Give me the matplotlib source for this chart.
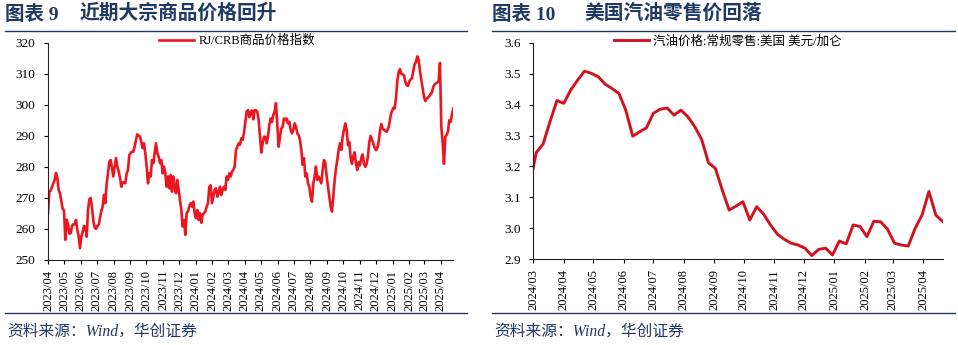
import matplotlib
matplotlib.use("Agg")
import matplotlib.pyplot as plt
import matplotlib.dates as mdates
from matplotlib.lines import Line2D
import pandas as pd

plt.rcParams['font.family'] = ['Liberation Serif', 'Noto Sans CJK SC']
plt.rcParams['axes.unicode_minus'] = False

# ---- RJ/CRB commodity index (sampled roughly every 2.5 days) ----
crb_start = "2023-04-01"
crb_end = "2025-04-24"
crb_values = [
    265, 272, 272.4, 273.5, 274.7, 275.8, 278, 276.5, 272.5, 271.5,
    269, 266.5, 266, 256.5, 263, 261.5, 258.5, 258.6, 261, 261.5,
    261.5, 262.9, 259.7, 257.6, 253.8, 257.6, 259, 261, 260.5, 257.5,
    266, 269.5, 270, 267, 262.6, 260.5, 260, 261, 261.3, 263.5,
    265.8, 267.2, 271, 268.3, 274.7, 277.9, 281.7, 282.2, 279.5, 276.9,
    280.1, 282.8, 280.1, 278.5, 276.5, 273.6, 275, 275, 274.7, 277.9,
    279, 283.8, 284.5, 284.9, 284.9, 286.5, 288.7, 290.5, 290, 289.8,
    288, 286,
    287.6, 284.4, 280.1, 274.7, 277.9, 276.9, 282.2, 281.2, 284.4, 287.6,
    284.4, 283.3, 281.2, 282.2, 277.9, 280.1, 277.9, 273.6, 276.9, 273.1,
    277.4, 272, 276.9, 273.6, 271.5, 275.8, 272.6, 269.4, 266.1, 260.8,
    262.9, 258.1, 265.1, 265.7, 267.2, 268.3, 267.2, 268.8, 265.1, 263.5,
    266.1, 262.9, 265.1, 262, 264.6, 265.1, 265.6, 267.2, 268.3, 273.6,
    274.1, 268.3, 270.4, 272.6, 273.1, 270.4, 271.5, 273.6, 270.9, 272.6,
    273.6, 272.6, 276.9, 275.8, 277.9, 276.9, 278.5, 279, 280.1, 285.5,
    286.5, 287.6, 287.1, 289.2, 288.7,
    291, 294.5, 297.8, 298.3, 296, 297.5, 298.2, 295.3, 298.3, 298.2,
    297.7, 295, 290, 284.6, 287.6, 289.7, 289.7, 287.6, 289.7, 293.5,
    295.6, 294.5, 296.7, 297.8, 300.5, 293.5, 286.5, 289.7, 292.4, 292.9,
    295.6, 295.1, 295.6, 294, 294.5, 291.9, 290.8, 291.9, 294, 292.9,
    290.8, 290.3, 288.7, 285.5, 280.7, 282.8, 276.9, 277.9, 274.7, 273.6,
    270.4, 268.8, 274.7, 276.9, 280.1, 275.8, 276.9, 275.8, 274.7, 279,
    282.2, 281.2, 276.9, 273.6, 270.4, 267.2, 265.6, 270.4, 275.8, 279.5,
    282.2, 285.5, 287.6, 285.5, 289.7,
    292, 294, 291.9, 287, 288, 283, 281, 283.5, 284.7, 281,
    279, 281.5, 280.5, 283, 284, 281, 280, 281, 283.5, 288,
    290, 288.7, 287.3, 286.2, 285.4, 286, 288, 291.5, 293.8, 292.4,
    291.9, 291.6, 291.3, 292.2, 293.7, 296.5, 298, 299, 298.8, 302,
    307.7, 310.4, 311.5, 310, 309.8, 309.5, 307.4, 306.3, 306.1, 307.5,
    308.2, 308.5, 311, 313, 313.8, 315.6, 314.5, 310.9, 308.2, 305.5,
    302.6, 301.2, 302, 302.3, 302.8, 303.4, 304, 305.8, 306.6, 306.9,
    307.2, 307.4, 313.5, 293, 288, 281, 289.7, 290.3, 291.4, 295,
    294.5, 297, 298.8,
]
crb_label = "RJ/CRB商品价格指数"
crb_yticks = [250, 260, 270, 280, 290, 300, 310, 320]

# ---- US regular retail gasoline, weekly (USD/gallon) ----
gas_start = "2024-02-26"
gas_end = "2025-04-21"
gas_values = [
    3.133, 3.245, 3.273, 3.345, 3.413, 3.404, 3.447, 3.479, 3.508, 3.501,
    3.490, 3.466, 3.452, 3.436, 3.382, 3.298, 3.312, 3.325, 3.372, 3.385,
    3.389, 3.366, 3.382, 3.361, 3.329, 3.288, 3.212, 3.194, 3.124, 3.059,
    3.072, 3.086, 3.027, 3.070, 3.046, 3.011, 2.981, 2.965, 2.952, 2.946,
    2.936, 2.912, 2.932, 2.936, 2.914, 2.959, 2.950, 3.011, 3.006, 2.973,
    3.023, 3.021, 2.997, 2.952, 2.946, 2.943, 3.000, 3.043, 3.119, 3.043,
    3.022,
]
gas_label = "汽油价格:常规零售:美国 美元/加仑"
gas_yticks = [2.9, 3.0, 3.1, 3.2, 3.3, 3.4, 3.5, 3.6]

NAVY = "#1F3864"
RED1 = "#EC1620"
RED2 = "#D3121E"

W, H = 958, 345
fig = plt.figure(figsize=(W / 100, H / 100), dpi=100)


def box(x0, y0, x1, y1):
    return [x0 / W, 1 - y1 / H, (x1 - x0) / W, (y1 - y0) / H]


def style_axis(ax):
    for s in ("top", "right"):
        ax.spines[s].set_visible(False)
    for s in ("left", "bottom"):
        ax.spines[s].set_color("#222222")
        ax.spines[s].set_linewidth(0.8)
    ax.tick_params(axis="y", direction="out", length=3, width=0.8,
                   labelsize=9.5, pad=6)
    ax.tick_params(axis="x", direction="out", length=3, width=0.8,
                   labelsize=9, pad=4, labelrotation=90)
    ax.xaxis.set_major_locator(mdates.MonthLocator())
    ax.xaxis.set_major_formatter(mdates.DateFormatter("%Y/%m"))


# left panel
ax1 = fig.add_axes(box(48, 42.7, 453.3, 260))
crb_dates = pd.date_range(crb_start, crb_end, periods=len(crb_values))
ax1.plot(crb_dates, crb_values, color=RED1, lw=1.9, label=crb_label)
ax1.set_ylim(250, 320)
ax1.set_yticks(crb_yticks)
ax1.set_xlim(pd.Timestamp(crb_start), pd.Timestamp(crb_end))
style_axis(ax1)
ax1.legend(loc="upper left", bbox_to_anchor=(0.275, 1.035), frameon=False,
           fontsize=9, handlelength=2.8, handletextpad=0.3, borderpad=0,
           borderaxespad=0)

# right panel
ax2 = fig.add_axes(box(533.3, 42.7, 942.7, 259.3))
gas_dates = pd.date_range(gas_start, gas_end, freq="7D")
ax2.plot(gas_dates, gas_values, color=RED2, lw=2.1, label=gas_label)
ax2.set_ylim(2.9, 3.6)
ax2.set_yticks(gas_yticks)
ax2.yaxis.set_major_formatter(matplotlib.ticker.FormatStrFormatter("%.1f"))
ax2.set_xlim(pd.Timestamp("2024-03-01"), pd.Timestamp(gas_end))
style_axis(ax2)
ax2.legend(loc="upper left", bbox_to_anchor=(0.198, 1.035), frameon=False,
           fontsize=9, handlelength=2.8, handletextpad=0.3, borderpad=0,
           borderaxespad=0)

# titles, rules and source notes
for (x0, x1, num, title, tx) in [
    (5, 467, "图表 9", "近期大宗商品价格回升", 80),
    (492, 955, "图表 10", "美国汽油零售价回落", 584),
]:
    fig.text(x0 / W, 1 - 14 / H, num, color=NAVY, fontsize=14,
             fontweight="bold", va="center", ha="left")
    fig.text(tx / W, 1 - 14 / H, title, color=NAVY, fontsize=14.2,
             fontweight="bold", va="center", ha="left")
    fig.add_artist(Line2D([x0 / W, x1 / W], [1 - 31 / H, 1 - 31 / H],
                          color=NAVY, lw=1.0))
    fig.add_artist(Line2D([x0 / W, x1 / W], [1 - 313 / H, 1 - 313 / H],
                          color=NAVY, lw=1.0))
    fig.text((x0 + 2) / W, 1 - 332 / H, "资料来源：Wind，华创证券",
             color=NAVY, fontsize=11.3, style="italic", va="center",
             ha="left")

fig.savefig("out.png", dpi=100)
